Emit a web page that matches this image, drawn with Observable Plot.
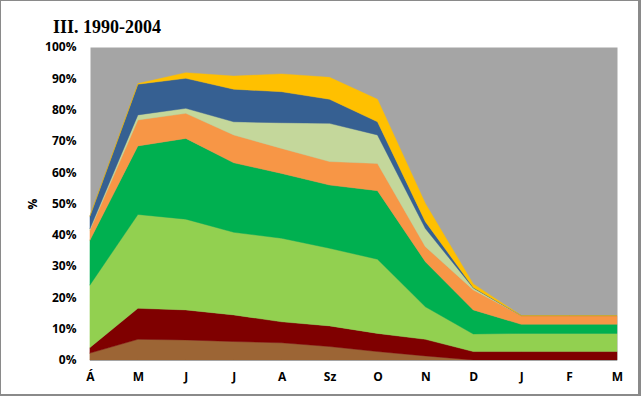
<!DOCTYPE html>
<html>
<head>
<meta charset="utf-8">
<script src="https://cdn.jsdelivr.net/npm/d3@7"></script>
<script src="https://cdn.jsdelivr.net/npm/@observablehq/plot@0.6"></script>
<style>
  html, body { margin: 0; padding: 0; background: #fff; }
  #wrap { position: relative; width: 641px; height: 396px; overflow: hidden; background: #fff; }
  #frame { position: absolute; left: 0; top: 0; width: 641px; height: 396px; box-sizing: border-box; border: 1px solid #8a8a8a; border-right: 3px solid #8a8a8a; border-bottom: 2px solid #8a8a8a; pointer-events: none; }
  #title { position: absolute; left: 53px; top: 17px; font-family: "Liberation Serif", serif; font-weight: bold; font-size: 18px; color: #000; }
  #chart { position: absolute; left: 0; top: 0; }
</style>
</head>
<body>
<div id="wrap">
  <div id="chart"></div>
  <div id="title">III. 1990-2004</div>
  <div id="frame"></div>
</div>
<script>
const months = ["Á", "M", "J", "J", "A", "Sz", "O", "N", "D", "J", "F", "M"];
const seriesNames = ["s1", "s2", "s3", "s4", "s5", "s6", "s7", "s8"];
const seriesColors = ["#9C6535", "#7F0000", "#92D050", "#00B050", "#F79646", "#C4D79B", "#366092", "#FFC000"];
const s1 = [2.2, 6.6, 6.4, 5.9, 5.5, 4.3, 2.7, 1.3, 0, 0, 0, 0];
const s2 = [1.8, 9.9, 9.6, 8.5, 6.7, 6.6, 5.8, 5.3, 2.7, 2.7, 2.7, 2.7];
const s3 = [20, 30, 29, 26.4, 26.7, 24.8, 23.7, 10.4, 5.6, 5.8, 5.8, 5.8];
const s4 = [14.3, 21.9, 25.8, 22.2, 20.7, 20.2, 21.9, 14.4, 7.7, 2.9, 2.9, 2.9];
const s5 = [3.2, 8.3, 8.0, 8.9, 8.0, 7.5, 8.7, 4.8, 6.4, 2.8, 2.8, 2.8];
const s6 = [0.5, 1.6, 1.6, 4.2, 8.2, 12.2, 9.1, 5.8, 0.6, 0, 0, 0];
const s7 = [4.0, 9.8, 9.6, 10.4, 9.9, 7.7, 4.2, 2.2, 0.2, 0, 0, 0];
const s8 = [0.1, 0.2, 1.8, 4.2, 5.7, 7.0, 7.2, 5.8, 1.1, 0, 0, 0];
const yTicks = [0, 10, 20, 30, 40, 50, 60, 70, 80, 90, 100];

const allSeries = [s1, s2, s3, s4, s5, s6, s7, s8];
const rows = [];
allSeries.forEach((vals, k) => {
  vals.forEach((v, i) => rows.push({i, series: seriesNames[k], value: v}));
});

const font = "'Open Sans', sans-serif";
const chart = Plot.plot({
  width: 641,
  height: 396,
  marginLeft: 90,
  marginRight: 24,
  marginTop: 47,
  marginBottom: 36,
  style: {fontFamily: font, fontSize: "12px", fontWeight: "bold", color: "#000", background: "transparent"},
  x: {type: "linear", domain: [0, 11], ticks: d3.range(12), tickFormat: i => months[i], tickSize: 0, tickPadding: 12, label: null},
  y: {domain: [0, 100], ticks: yTicks, tickFormat: d => d + "%", tickSize: 0, tickPadding: 14, label: "%", labelAnchor: "center", labelArrow: "none", labelOffset: 62},
  color: {domain: seriesNames, range: seriesColors},
  marks: [
    Plot.frame({fill: "#A5A5A5"}),
    Plot.areaY(rows, {x: "i", y: "value", z: "series", fill: "series", stroke: "series", strokeWidth: 0.4, order: seriesNames}),
    Plot.ruleY([0], {stroke: "#A5A5A5", strokeWidth: 1})
  ]
});
document.getElementById("chart").appendChild(chart);
</script>
</body>
</html>
